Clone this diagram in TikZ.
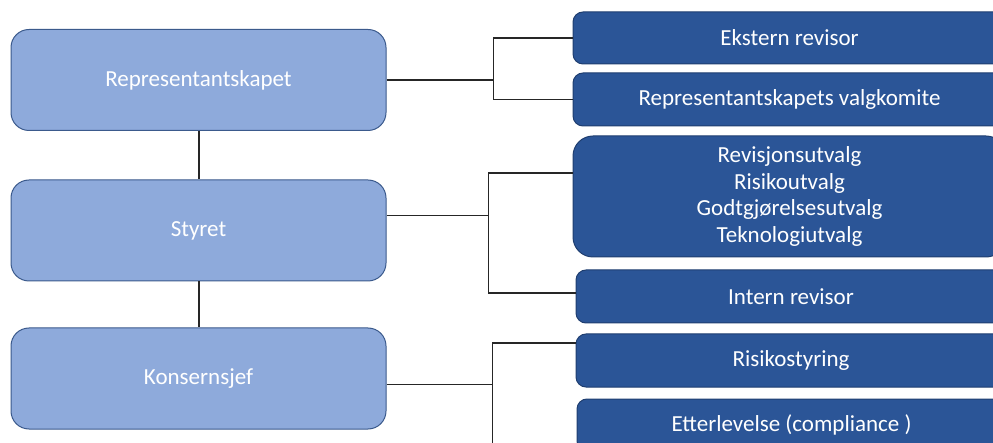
\documentclass[tikz,border=0pt]{standalone}
\usepackage{fontspec}
\setmainfont{Carlito}
\definecolor{lfill}{HTML}{8EAADB}
\definecolor{lborder}{HTML}{3B5A8C}
\definecolor{dfill}{HTML}{2B5597}
\definecolor{dborder}{HTML}{1F3E70}
\begin{document}
\begin{tikzpicture}[x=1pt,y=-1pt,
  lvl/.style={draw=lborder, fill=lfill, rounded corners=18pt, line width=1pt,
    text=white, minimum width=375pt, minimum height=101pt, inner sep=0pt,
    font=\fontsize{23}{26}\selectfont},
  sub/.style={draw=dborder, fill=dfill, rounded corners=10pt, line width=1pt,
    text=white, minimum height=52pt, inner sep=0pt, align=center,
    font=\fontsize{23}{26.7}\selectfont},
  conn/.style={draw=black!85, line width=1.3pt},
  vconn/.style={draw=black!85, line width=2pt}]
\useasboundingbox (0,0) rectangle (993,443);
\clip (0,0) rectangle (993,443);
% left column
\node[lvl] (rep) at (198.5,80) {\raisebox{-2pt}{Representantskapet}};
\node[lvl] (sty) at (198.5,230.5) {Styret};
\node[lvl] (kon) at (198.5,378.5) {Konsernsjef};
% right column
\node[sub, minimum width=433pt] (ext) at (789.5,38) {Ekstern revisor};
\node[sub, minimum width=433pt, minimum height=53pt] (val) at (789.5,99.5) {Representantskapets valgkomite};
\node[sub, minimum width=433pt, minimum height=121pt, rounded corners=20pt] (rev) at (789.5,196.5)
  {Revisjonsutvalg\\Risikoutvalg\\Godtgjørelsesutvalg\\Teknologiutvalg};
\node[sub, minimum width=430pt, minimum height=53pt] (int) at (791,296.5) {Intern revisor};
\node[sub, minimum width=430pt, minimum height=53pt] (ris) at (791,360.5) {Risikostyring};
\node[sub, minimum width=429pt, minimum height=52pt] (ett) at (791.5,425) {Etterlevelse (compliance )};
% vertical connectors
\draw[vconn] (rep.south) -- (sty.north);
\draw[vconn] (sty.south) -- (kon.north);
% brackets
\draw[conn] (rep.east) -- ++(107,0) coordinate (j1);
\draw[conn] (ext.west) -| (j1) |- (val.west);
\draw[conn] ([yshift=15pt]sty.east) -- ++(102,0) coordinate (j2);
\draw[conn] ([yshift=23.5pt]rev.west) -| (j2) |- ([yshift=3.5pt]int.west);
\draw[conn] ([yshift=-6pt]kon.east) -- ++(106,0) coordinate (j3);
\coordinate (k3end) at (491,460);
\draw[conn] ([yshift=17.5pt]ris.west) -| (j3) -- (j3 |- k3end);
\end{tikzpicture}
\end{document}
